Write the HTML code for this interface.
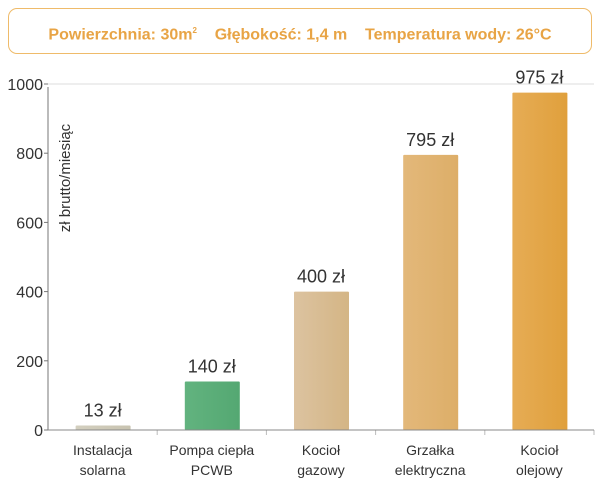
<!DOCTYPE html>
<html><head><meta charset="utf-8"><style>
body{margin:0;background:#fff;width:600px;height:481px;overflow:hidden;font-family:"Liberation Sans",sans-serif}
.hdr{position:absolute;left:8px;top:8px;width:582px;height:44px;border:1.5px solid #efbb6a;border-radius:9px;text-align:center;line-height:44px;color:#e8a445;font-weight:bold;font-size:16px}
</style></head><body>
<div class="hdr">Powierzchnia: 30m<sup style="font-size:8px">2</sup>&nbsp;&nbsp;&nbsp;&nbsp;Głębokość: 1,4 m&nbsp;&nbsp;&nbsp;&nbsp;Temperatura wody: 26°C</div>
<svg id="c" width="600" height="481" style="position:absolute;left:0;top:0"></svg>
<script>
const categories=[["Instalacja","solarna"],["Pompa ciepła","PCWB"],["Kocioł","gazowy"],["Grzałka","elektryczna"],["Kocioł","olejowy"]];
const values=[13,140,400,795,975];
const valueLabels=["13 zł","140 zł","400 zł","795 zł","975 zł"];
const colors=[["#d3cfbf","#c8c3b0"],["#62b37f","#54a872"],["#dcc3a0","#d4b585"],["#e3b87a","#ddae68"],["#e6ac55","#e0a03c"]];
const yTicks=[0,200,400,600,800,1000];
const svg=document.getElementById('c');const NS="http://www.w3.org/2000/svg";
const x0=48,x1=594,yb=430,yt=84,ymax=1000;
const y=v=>yb-(yb-yt)*v/ymax;
const bw=(x1-x0)/categories.length;
const xc=i=>x0+bw*(i+0.5);
function mk(t,a,txt){const e=document.createElementNS(NS,t);for(const k in a)e.setAttribute(k,a[k]);if(txt!==undefined)e.textContent=txt;svg.appendChild(e);return e;}
const defs=mk('defs',{});
colors.forEach((c,i)=>{const g=document.createElementNS(NS,'linearGradient');g.setAttribute('id','g'+i);
g.innerHTML=`<stop offset="0" stop-color="${c[0]}"/><stop offset="1" stop-color="${c[1]}"/>`;defs.appendChild(g);});
let e=mk('line',{x1:x0,y1:y(1000),x2:x1,y2:y(1000),stroke:"#ddd","stroke-width":1});

yTicks.forEach(t=>{let l=mk('line',{x1:x0-4,y1:y(t),x2:x0,y2:y(t),stroke:"#777"});

let tx=mk('text',{x:x0-5,y:y(t)+6,"text-anchor":"end","font-size":16,fill:"#333"},t);
});
values.forEach((v,i)=>{const cx=xc(i);
let r=mk('rect',{x:cx-27,y:y(v),width:55,height:yb-y(v),fill:`url(#g${i})`,rx:1});

let t=mk('text',{x:cx,y:y(v)-9,"text-anchor":"middle","font-size":18,fill:"#333"},valueLabels[i]);

categories[i].forEach((s,j)=>{let c=mk('text',{x:cx,y:455+j*20,"text-anchor":"middle","font-size":14,fill:"#333"},s);
});
let tk=mk('line',{x1:x0+bw*(i+1),y1:yb,x2:x0+bw*(i+1),y2:yb+5,stroke:"#bbb"});
});
let ax=mk('line',{x1:x0,y1:yt+3,x2:x0,y2:yb,stroke:"#777"});
let bx=mk('line',{x1:x0,y1:yb,x2:x1,y2:yb,stroke:"#888"});
let yt2=mk('text',{x:0,y:0,transform:"translate(70,178) rotate(-90)","text-anchor":"middle","font-size":15,fill:"#333"},"zł brutto/miesiąc");

</script>
</body></html>
